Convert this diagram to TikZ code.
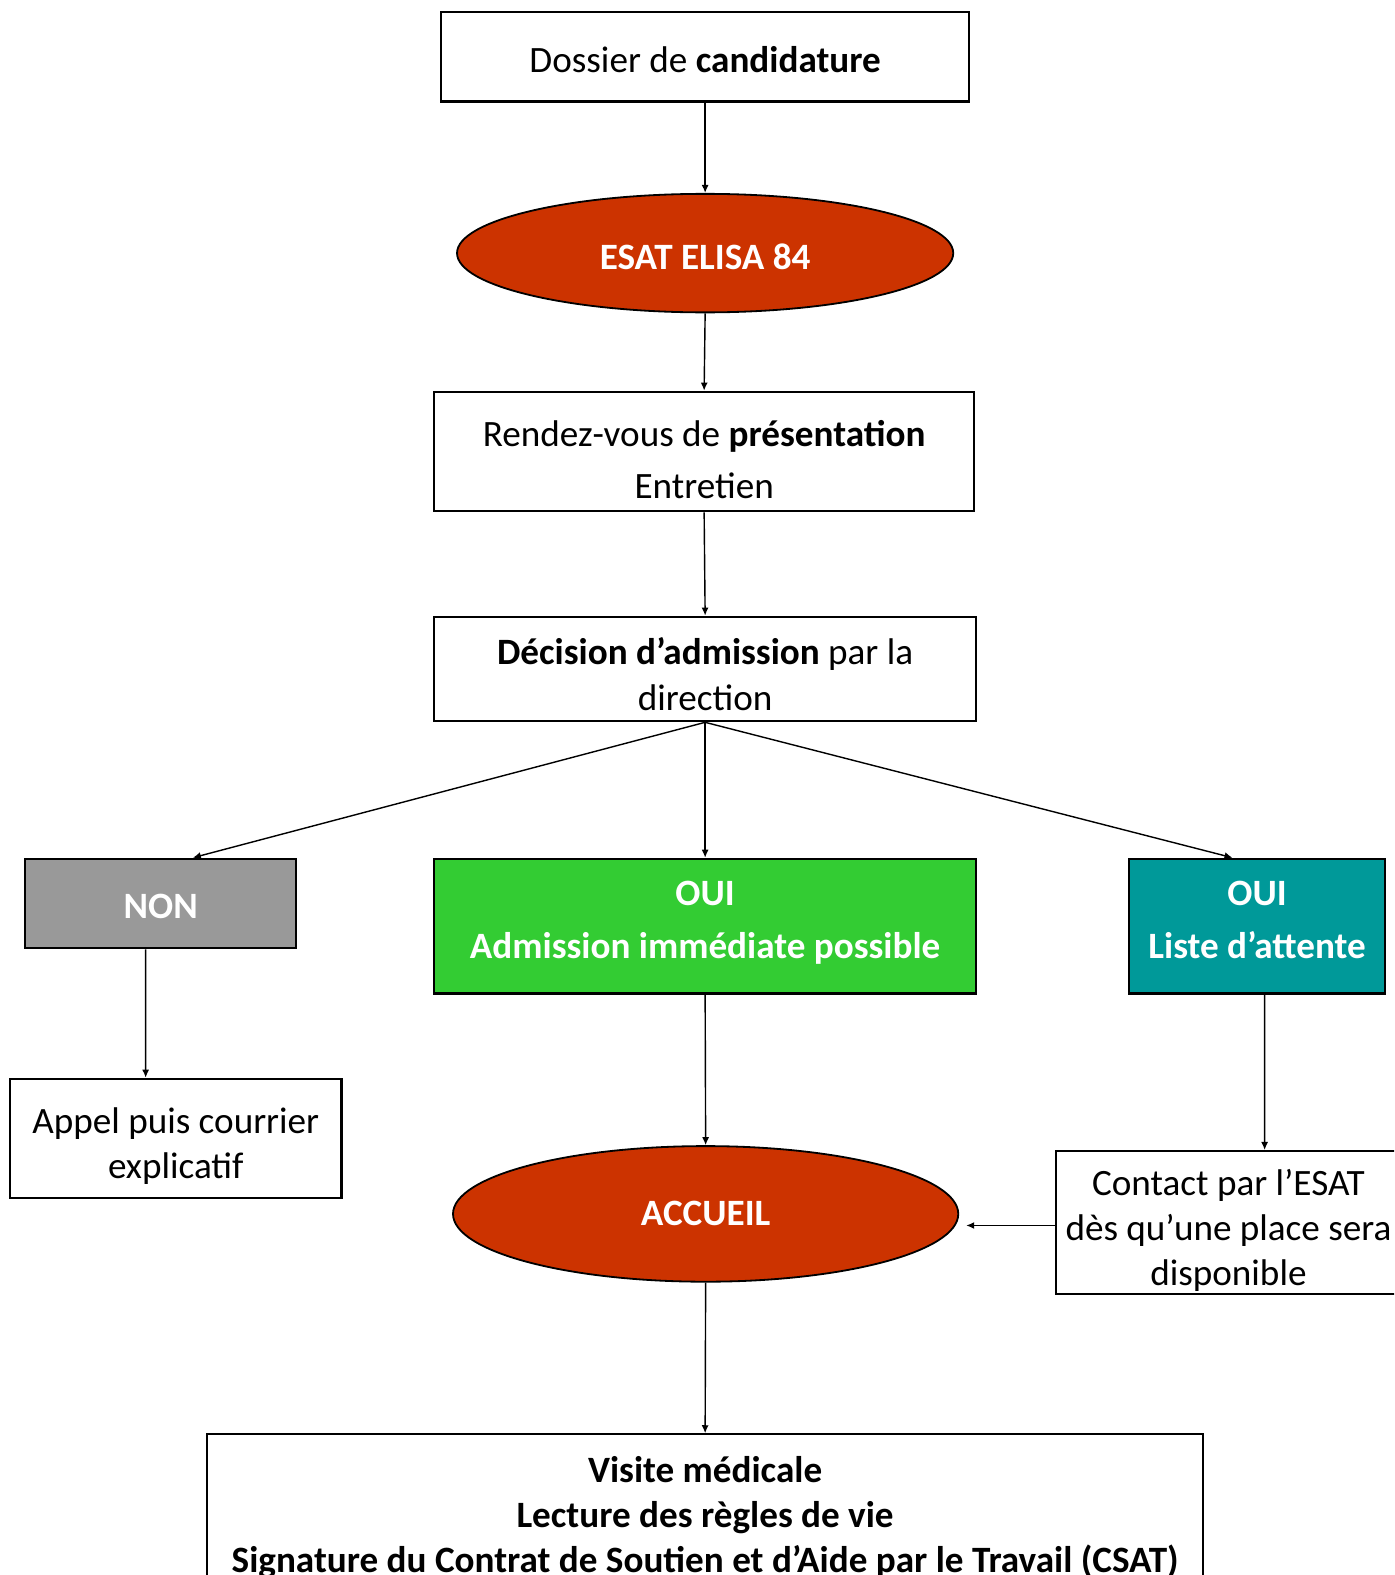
\documentclass[tikz,border=0pt]{standalone}
\usepackage{fontspec}
\setmainfont{Carlito}
\usetikzlibrary{arrows.meta, shapes.geometric}
\definecolor{esatred}{HTML}{CC3300}
\definecolor{nongray}{HTML}{999999}
\definecolor{ouigreen}{HTML}{33CC33}
\definecolor{waitteal}{HTML}{009999}

\begin{document}
\begin{tikzpicture}[x=1bp, y=-1bp, >={Latex[length=8bp,width=7bp]},
    txtbase/.style={text depth=0pt, text height=#1bp},
    box/.style={draw, line width=2.2bp, align=center, inner sep=0pt,
      font=\fontsize{37bp}{45bp}\selectfont},
    colbox/.style={box, text=white, font=\fontsize{37bp}{53bp}\selectfont\bfseries},
    oval/.style={ellipse, draw, line width=1.8bp, fill=esatred, text=white,
      inner sep=0pt, font=\fontsize{37bp}{45bp}\selectfont\bfseries},
    arr/.style={->, line width=1.4bp}]
    \useasboundingbox (0,0) rectangle (1388,1568);
    \clip (0,0) rectangle (1388,1568);

    % Parcours d'admission
    \node[box, txtbase=30.6, minimum width=526bp, minimum height=89bp] (dossier) at (702,56.5)
      {Dossier de \textbf{candidature}};
    \node[oval, txtbase=32, minimum width=494bp, minimum height=118bp] (esat) at (702,252)
      {ESAT ELISA 84};
    \node[box, txtbase=94, minimum width=538bp, minimum height=119bp,
      font=\fontsize{37bp}{52bp}\selectfont] (rdv) at (701,449.5)
      {Rendez-vous de \textbf{présentation}\\Entretien};
    \node[box, txtbase=82, minimum width=540bp, minimum height=104bp] (decision) at (702,666)
      {\textbf{Décision d’admission} par la\\direction};

    % Trois issues
    \node[colbox, txtbase=29, fill=nongray, minimum width=270bp, minimum height=89bp] (non) at (160,899.5)
      {NON};
    \node[colbox, txtbase=65, fill=ouigreen, minimum width=540bp, minimum height=134bp] (oui) at (702,922)
      {OUI\\Admission immédiate possible};
    \node[colbox, txtbase=65, fill=waitteal, minimum width=255bp, minimum height=134bp] (liste) at (1251.5,922)
      {OUI\\Liste d’attente};

    \node[box, txtbase=80, minimum width=330bp, minimum height=119bp] (appel) at (175,1133.5)
      {Appel puis courrier\\explicatif};
    \node[oval, txtbase=23, minimum width=503bp, minimum height=135bp] (accueil) at (702.5,1208.5)
      {ACCUEIL};
    \node[box, txtbase=126, minimum width=344bp, minimum height=142bp] (contact) at (1223,1217)
      {Contact par l’ESAT\\dès qu’une place sera\\disponible};

    \node[box, txtbase=125, minimum width=992bp, minimum height=150bp,
      font=\fontsize{37bp}{45bp}\selectfont\bfseries] (visite) at (702,1503)
      {Visite médicale\\Lecture des règles de vie\\Signature du Contrat de Soutien et d’Aide par le Travail (CSAT)};

    % Liaisons
    \draw[arr] (dossier.south) -- (esat.north);
    \draw[arr] (esat.south) -- (rdv.north);
    \draw[arr] (rdv.south) -- (decision.north);
    \draw[arr] (decision.south) -- ([xshift=32bp]non.north);
    \draw[arr] (decision.south) -- (oui.north);
    \draw[arr] (decision.south) -- ([xshift=-24.5bp]liste.north);
    \draw[arr] ([xshift=-15bp]non.south) -- ([xshift=-30bp]appel.north);
    \draw[arr] (oui.south) -- (accueil.north);
    \draw[arr] ([xshift=7.5bp]liste.south) -- ([xshift=36bp]contact.north);
    \draw[arr, shorten >=7bp] ([yshift=-3bp]contact.west) -- ([yshift=-3bp]contact.west -| accueil.east);
    \draw[arr] (accueil.south) -- (visite.north);

  \end{tikzpicture}
\end{document}
